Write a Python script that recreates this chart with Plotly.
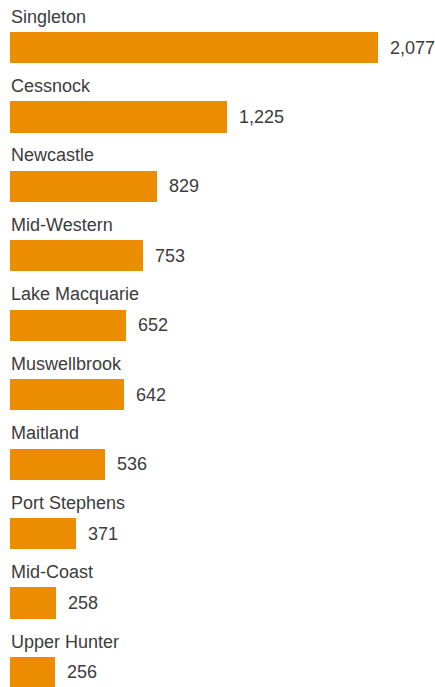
import plotly.graph_objects as go

regions = ["Singleton", "Cessnock", "Newcastle", "Mid-Western", "Lake Macquarie",
           "Muswellbrook", "Maitland", "Port Stephens", "Mid-Coast", "Upper Hunter"]
values = [2077, 1225, 829, 753, 652, 642, 536, 371, 258, 256]

BAR_COLOR = "#EC8C00"
TEXT_COLOR = "#3c3c3c"
FONT = "Liberation Sans, Arial, Helvetica, sans-serif"

pos = list(range(len(regions)))

fig = go.Figure(
    go.Bar(
        x=values,
        y=pos,
        orientation="h",
        width=0.45,
        marker=dict(color=BAR_COLOR, line=dict(width=0)),
        hoverinfo="skip",
    )
)

annotations = []
for i, (name, v) in enumerate(zip(regions, values)):
    # region name sits above its bar
    annotations.append(dict(
        x=0, y=i - 0.445, xref="x", yref="y", text=name, showarrow=False,
        xanchor="left", yanchor="middle", xshift=-1,
        font=dict(family=FONT, size=18, color=TEXT_COLOR, weight=300),
    ))
    # value to the right of the bar end
    annotations.append(dict(
        x=v, y=i, xref="x", yref="y", text=f"{v:,}", showarrow=False,
        xanchor="left", yanchor="middle", xshift=10,
        font=dict(family=FONT, size=18, color=TEXT_COLOR, weight=300),
    ))

fig.update_layout(
    width=435, height=687,
    margin=dict(l=0, r=0, t=0, b=0),
    paper_bgcolor="white", plot_bgcolor="white",
    showlegend=False,
    annotations=annotations,
    xaxis=dict(range=[-56.4, 2398.6], visible=False, fixedrange=True),
    yaxis=dict(range=[9.209, -0.684], visible=False, fixedrange=True),
    bargap=0,
)

fig.write_html("out.html")
